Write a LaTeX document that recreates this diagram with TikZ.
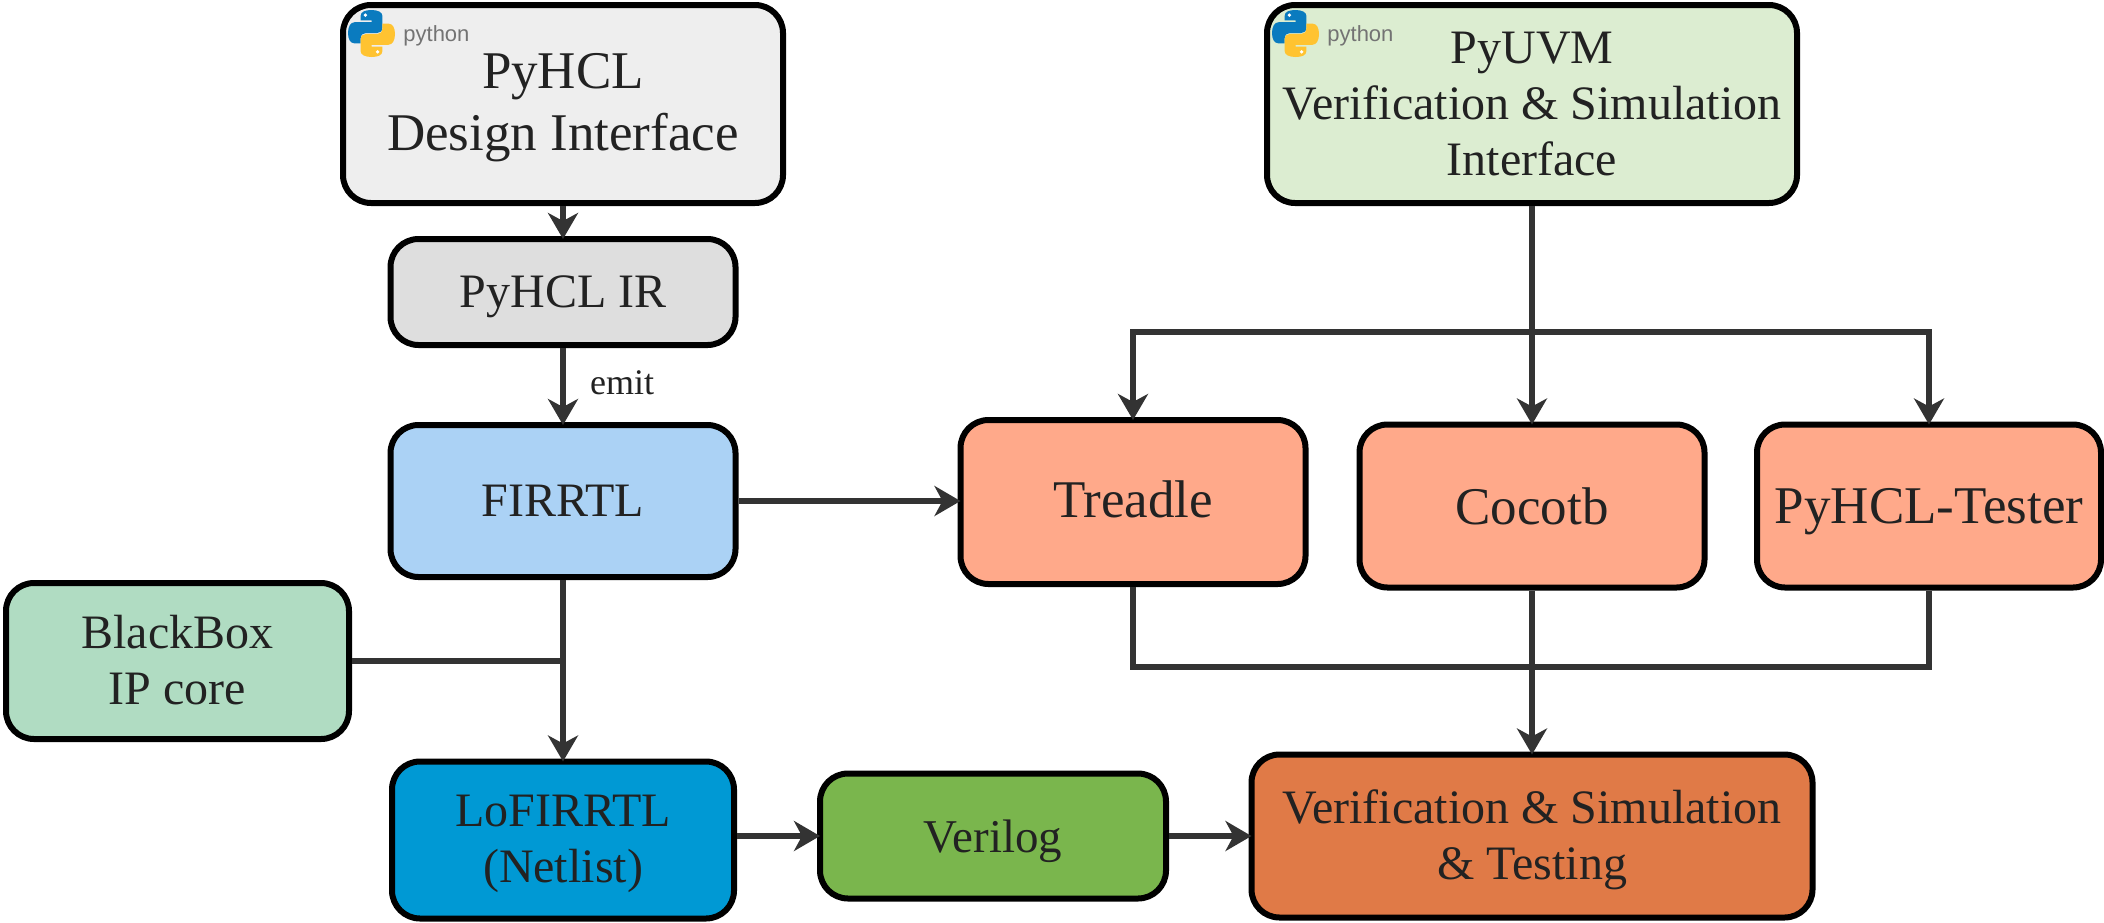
\documentclass[tikz,border=0pt]{standalone}
\usepackage{fontspec}
\setmainfont{Liberation Serif}
\newfontfamily\logofont{Liberation Sans}
\usetikzlibrary{arrows.meta,calc}
\definecolor{cInk}{HTML}{222222}
\definecolor{cLine}{HTML}{333333}
\definecolor{cA}{HTML}{EEEEEE}
\definecolor{cB}{HTML}{DCEDD1}
\definecolor{cC}{HTML}{DEDEDE}
\definecolor{cD}{HTML}{ABD2F5}
\definecolor{cE}{HTML}{B0DCC2}
\definecolor{cF}{HTML}{0099D4}
\definecolor{cG}{HTML}{7AB64D}
\definecolor{cH}{HTML}{E07A47}
\definecolor{cI}{HTML}{FFA98A}
\definecolor{pyblue}{HTML}{0A7BBF}
\definecolor{pyyellow}{HTML}{FFC331}
\newcommand{\fs}[1]{\fontsize{#1}{28}\selectfont}
\newcommand{\fsb}[2]{\fontsize{#1}{#2}\selectfont}
\tikzset{
  box/.style={draw=black,line width=3pt,rounded corners=14pt,align=center,inner sep=0pt,text=cInk},
  conn/.style={draw=cLine,line width=3pt},
  arr/.style={conn,shorten >=-1.5pt,-{Stealth[length=13pt,width=15pt,inset=4pt]}},
  pysnake/.pic={
    \fill[pic actions] (27,12) .. controls (27,4) and (36,0) .. (50,0)
      .. controls (64,0) and (73,5) .. (73,12) -- (73,38)
      .. controls (73,45) and (68,49) .. (62,49) -- (38,49)
      .. controls (32,49) and (27,53) .. (27,60) -- (27,71) -- (14,71)
      .. controls (5,71) and (0,62) .. (0,49)
      .. controls (0,36) and (5,26) .. (14,26) -- (50,26) -- (50,22) -- (27,22) -- cycle;
    \fill[white] (37,11) circle (4);
  }
}
\newcommand{\pylogo}[3]{%
  \begin{scope}[shift={(#1,#2)},x=0.235pt,y=-0.235pt]
    \pic[fill=pyblue] at (0,0) {pysnake};
    \pic[fill=pyyellow,xscale=-1,yscale=-1] at (100,100) {pysnake};
  \end{scope}
  \node[text=black!55,inner sep=0pt,anchor=base west,font=\logofont\fontsize{11}{12}\selectfont] (#3) at (#1+55,#2+31) {python};
}
\begin{document}
\begin{tikzpicture}[x=0.5pt,y=-0.5pt]
\useasboundingbox (0,0) rectangle (2104,922);
\node[box,fill=cA,minimum width=220pt,minimum height=99pt,font=\fsb{26.5}{31},text height=46pt,text depth=0pt] (hcl) at (563,104) {PyHCL\\Design Interface};
\node[box,fill=cB,minimum width=265pt,minimum height=99pt,font=\fs{24}] (uvm) at (1532,104) {PyUVM\\Verification \& Simulation\\Interface};
\node[box,fill=cC,minimum width=172.5pt,minimum height=53pt,font=\fs{24},text depth=0pt] (ir) at (563,292) {PyHCL IR};
\node[box,fill=cD,minimum width=172.5pt,minimum height=76pt,font=\fs{24}] (firrtl) at (563,501) {FIRRTL};
\node[box,fill=cE,minimum width=171.5pt,minimum height=78pt,font=\fs{24},text height=43pt,text depth=0pt] (bb) at (177.5,661) {BlackBox\\IP core};
\node[box,fill=cF,minimum width=171pt,minimum height=78.5pt,font=\fs{24},text height=42.3pt,text depth=0pt] (lo) at (563,840) {LoFIRRTL\\(Netlist)};
\node[box,fill=cG,minimum width=173pt,minimum height=62.5pt,font=\fs{23.5},text depth=0pt] (vlog) at (993,836) {Verilog};
\node[box,fill=cH,minimum width=280.5pt,minimum height=81.5pt,font=\fs{24},text height=43pt,text depth=0pt] (ver) at (1532,836) {Verification \& Simulation\\\& Testing};
\node[box,fill=cI,minimum width=172.5pt,minimum height=82pt,font=\fs{26.5},text height=17.5pt,text depth=2pt] (tre) at (1133,502) {Treadle};
\node[box,fill=cI,minimum width=172.5pt,minimum height=81.5pt,font=\fs{26.5}] (coc) at (1532,506) {Cocotb};
\node[box,fill=cI,minimum width=172pt,minimum height=81.5pt,font=\fs{26.5},text depth=0pt] (tes) at (1929,506) {PyHCL-Tester};
\pylogo{348}{10}{pyA}
\pylogo{1272}{10}{pyB}
\coordinate (busU) at (1532,332);
\coordinate (busD) at (1532,667);
\draw[arr] (hcl.south) -- (ir.north);
\draw[arr] (ir.south) -- (firrtl.north);
\node[text=cInk,inner sep=0pt,font=\fs{18}] (emit) at (622,383) {emit};
\draw[arr] (firrtl.east) -- (firrtl.east -| tre.west);
\draw[arr] (firrtl.south) -- (lo.north);
\draw[conn] (bb.east) -- (bb.east -| lo.north);
\draw[arr] (lo.east |- vlog.west) -- (vlog.west);
\draw[arr] (vlog.east) -- (ver.west);
\draw[arr] (uvm.south) -- (coc.north);
\draw[arr] (busU) -| (tre.north);
\draw[arr] (busU) -| (tes.north);
\draw[conn] (tre.south) |- (busD);
\draw[conn] (tes.south) |- (busD);
\draw[arr] (coc.south) -- (ver.north);
\end{tikzpicture}
\end{document}
